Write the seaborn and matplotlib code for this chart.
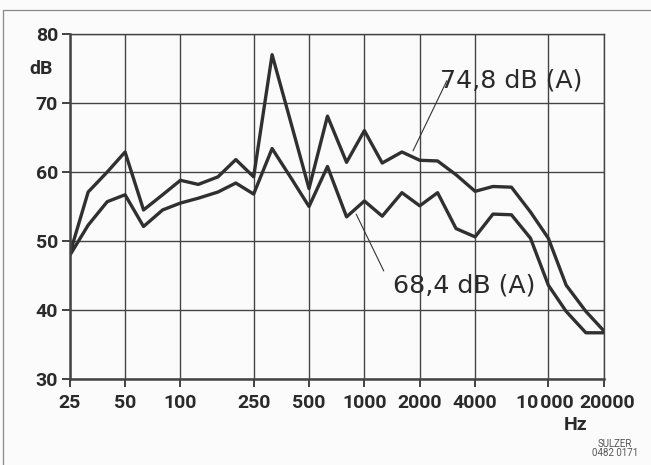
import matplotlib
matplotlib.use("Agg")
import matplotlib.pyplot as plt
import matplotlib.ticker as mticker
import matplotlib.transforms as mtransforms
from matplotlib.lines import Line2D
import seaborn as sns
import pandas as pd

# ---- data ----
freqs = [25, 31.5, 40, 50, 63, 80, 100, 125, 160, 200, 250, 315, 400, 500, 630,
         800, 1000, 1250, 1600, 2000, 2500, 3150, 4000, 5000, 6300, 8000,
         10000, 12500, 16000, 20000]
upper_db = [48.1, 57.1, 60.0, 62.9, 54.5, 56.7, 58.8, 58.2, 59.3, 61.8, 59.3, 77.0,
            67.0, 57.6, 68.1, 61.4, 66.0, 61.3, 62.9, 61.7, 61.6, 59.6, 57.2, 57.9,
            57.8, 54.2, 50.4, 43.6, 39.8, 37.0]
lower_db = [47.9, 52.3, 55.7, 56.7, 52.1, 54.5, 55.5, 56.2, 57.1, 58.4, 56.8, 63.4,
            59.1, 55.0, 60.8, 53.5, 55.8, 53.6, 57.0, 55.1, 57.0, 51.8, 50.6, 53.9,
            53.8, 50.4, 43.6, 39.8, 36.7, 36.7]
series_names = ["74,8 dB (A)", "68,4 dB (A)"]
x_ticks = [25, 50, 100, 250, 500, 1000, 2000, 4000, 10000, 20000]
x_tick_labels = ["25", "50", "100", "250", "500", "1000", "2000", "4000",
                 "10\u200a000", "20000"]
y_ticks = [30, 40, 50, 60, 70, 80]

df = pd.DataFrame({
    "Hz": freqs * 2,
    "dB": upper_db + lower_db,
    "series": [series_names[0]] * len(freqs) + [series_names[1]] * len(freqs),
})

sns.set_theme(style="white")
plt.rcParams["font.family"] = ["Roboto", "DejaVu Sans"]

ink = "#303030"
fig = plt.figure(figsize=(6.51, 4.65), dpi=100, facecolor="#fbfbfb")
ax = fig.add_axes([69.7 / 651, 1 - 379 / 465, (603.7 - 69.7) / 651, (379 - 34) / 465])
ax.set_facecolor("#fbfbfb")
ax.set_xscale("log")

sns.lineplot(data=df, x="Hz", y="dB", hue="series", palette=[ink, ink],
             linewidth=2.4, legend=False, ax=ax, sort=False)

ax.set_xlim(25, 20000)
ax.set_ylim(30, 80)
ax.xaxis.set_major_locator(mticker.FixedLocator(x_ticks))
ax.xaxis.set_major_formatter(mticker.FixedFormatter(x_tick_labels))
ax.xaxis.set_minor_locator(mticker.NullLocator())
ax.set_yticks(y_ticks)
ax.set_yticklabels([str(v) for v in y_ticks])

ax.grid(True, color="#444444", linewidth=1.0)
for s in ax.spines.values():
    s.set_color("#444444")
    s.set_linewidth(1.0)
ax.spines["left"].set_linewidth(1.8)
ax.spines["bottom"].set_linewidth(1.8)

ax.tick_params(axis="both", which="major", direction="out", length=5.5, width=1.3,
               color="#333333", labelsize=14, labelcolor="#2a2a2a")
ax.tick_params(axis="x", pad=5, bottom=True)
ax.tick_params(axis="y", pad=3, left=True)
for lbl in ax.get_xticklabels() + ax.get_yticklabels():
    lbl.set_fontweight("bold")

# nudge the two crowded labels apart as in the original print
xl = ax.get_xticklabels()
xl[-2].set_transform(xl[-2].get_transform() +
                     mtransforms.ScaledTranslation(-3.5 / 100, 0, fig.dpi_scale_trans))
xl[-1].set_transform(xl[-1].get_transform() +
                     mtransforms.ScaledTranslation(3.5 / 100, 0, fig.dpi_scale_trans))

ax.set_xlabel("")
ax.set_ylabel("")

# annotations
ax.text(2582, 73.3, series_names[0], ha="left", va="center", fontsize=18.2,
        color="#2a2a2a", family=["DejaVu Sans"])
ax.annotate("", xy=(1811, 62.7), xytext=(2851, 73.6),
            arrowprops=dict(arrowstyle="-", color="#333333", lw=0.8))
ax.text(1432, 43.6, series_names[1], ha="left", va="center", fontsize=18.2,
        color="#2a2a2a", family=["DejaVu Sans"])
ax.annotate("", xy=(889, 54.25), xytext=(1294, 45.3),
            arrowprops=dict(arrowstyle="-", color="#333333", lw=0.8))

# axis unit labels
fig.text(41 / 651, 1 - 69 / 465, "dB", ha="center", va="center", fontsize=14,
         fontweight="bold", color="#2a2a2a")
fig.text(576 / 651, 1 - 425 / 465, "Hz", ha="center", va="center", fontsize=14,
         fontweight="bold", color="#2a2a2a")
fig.text(615 / 651, 1 - 444 / 465, "SULZER", ha="center", va="center", fontsize=7,
         color="#555555")
fig.text(615 / 651, 1 - 453 / 465, "0482 0171", ha="center", va="center", fontsize=7,
         color="#555555")

# outer border lines (top and left)
fig.add_artist(Line2D([3 / 651, 3 / 651], [0, 1 - 10 / 465], transform=fig.transFigure,
                      color="#888888", lw=0.9))
fig.add_artist(Line2D([3 / 651, 1], [1 - 10 / 465, 1 - 10 / 465], transform=fig.transFigure,
                      color="#888888", lw=0.9))

fig.savefig("out.png", dpi=100, facecolor=fig.get_facecolor())
